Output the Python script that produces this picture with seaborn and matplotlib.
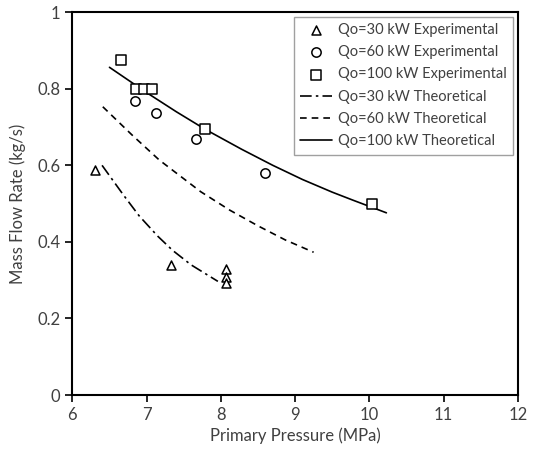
import pandas as pd
import seaborn as sns
import matplotlib.pyplot as plt

# experimental points
p30_exp = [6.31, 7.33, 8.07, 8.07, 8.07]
m30_exp = [0.587, 0.339, 0.328, 0.309, 0.292]
p60_exp = [6.84, 7.13, 7.67, 8.59]
m60_exp = [0.768, 0.737, 0.670, 0.580]
p100_exp = [6.66, 6.86, 6.96, 7.07, 7.79, 10.04]
m100_exp = [0.876, 0.800, 0.800, 0.800, 0.694, 0.500]

# theoretical curves
p30_th = [6.40, 6.69, 6.90, 7.15, 7.35, 7.60, 7.96]
m30_th = [0.600, 0.522, 0.468, 0.415, 0.378, 0.340, 0.297]
p60_th = [6.41, 6.80, 7.17, 7.73, 8.12, 8.50, 8.87, 9.25]
m60_th = [0.753, 0.680, 0.614, 0.531, 0.483, 0.442, 0.405, 0.373]
p100_th = [6.50, 7.00, 7.40, 7.79, 8.28, 8.70, 9.10, 9.50, 9.78, 10.23]
m100_th = [0.856, 0.790, 0.740, 0.694, 0.642, 0.600, 0.563, 0.530, 0.509, 0.476]

sns.set_style('white')
plt.rcParams['font.family'] = ['Lato', 'DejaVu Sans']
txt = '#404040'

fig = plt.figure(figsize=(5.36, 4.51), dpi=100)
ax = fig.add_axes([0.135, 0.124, 0.831, 0.849])

exp = [('Qo=30 kW Experimental', p30_exp, m30_exp, '^', 42),
       ('Qo=60 kW Experimental', p60_exp, m60_exp, 'o', 45),
       ('Qo=100 kW Experimental', p100_exp, m100_exp, 's', 45)]
for label, x, y, mk, s in exp:
    df = pd.DataFrame({'p': x, 'm': y})
    sns.scatterplot(data=df, x='p', y='m', marker=mk, s=s, facecolor='white',
                    edgecolor='black', linewidth=1.1, label=label, ax=ax, zorder=3)

theo = [('Qo=30 kW Theoretical', p30_th, m30_th, (0, (7, 2.5, 1.5, 2.5))),
        ('Qo=60 kW Theoretical', p60_th, m60_th, (0, (4, 3))),
        ('Qo=100 kW Theoretical', p100_th, m100_th, '-')]
for label, x, y, ls in theo:
    df = pd.DataFrame({'p': x, 'm': y})
    sns.lineplot(data=df, x='p', y='m', color='black', linewidth=1.2,
                 linestyle=ls, label=label, ax=ax)

ax.set_xlim(6, 12)
ax.set_ylim(0, 1)
ax.set_xticks(range(6, 13))
ax.set_yticks([0, 0.2, 0.4, 0.6, 0.8, 1])
ax.set_yticklabels(['0', '0.2', '0.4', '0.6', '0.8', '1'])
ax.set_xlabel('Primary Pressure (MPa)', fontsize=12, color=txt, labelpad=3)
ax.set_ylabel('Mass Flow Rate (kg/s)', fontsize=12, color=txt, labelpad=8)
ax.tick_params(axis='both', labelsize=12, labelcolor=txt, direction='out',
               length=5, width=1.2, color='black', bottom=True, left=True)
for sp in ax.spines.values():
    sp.set_color('black')
    sp.set_linewidth(1.5)

leg = ax.legend(loc='upper right', bbox_to_anchor=(1.0, 1.0), fontsize=10.5,
                frameon=True, fancybox=False, framealpha=1, edgecolor='#a0a0a0',
                labelspacing=0.56, handlelength=2.2, handletextpad=0.4,
                borderpad=0.45, borderaxespad=0.3)
leg.get_frame().set_linewidth(1.0)
for t in leg.get_texts():
    t.set_color(txt)

fig.savefig('out.png', dpi=100)
